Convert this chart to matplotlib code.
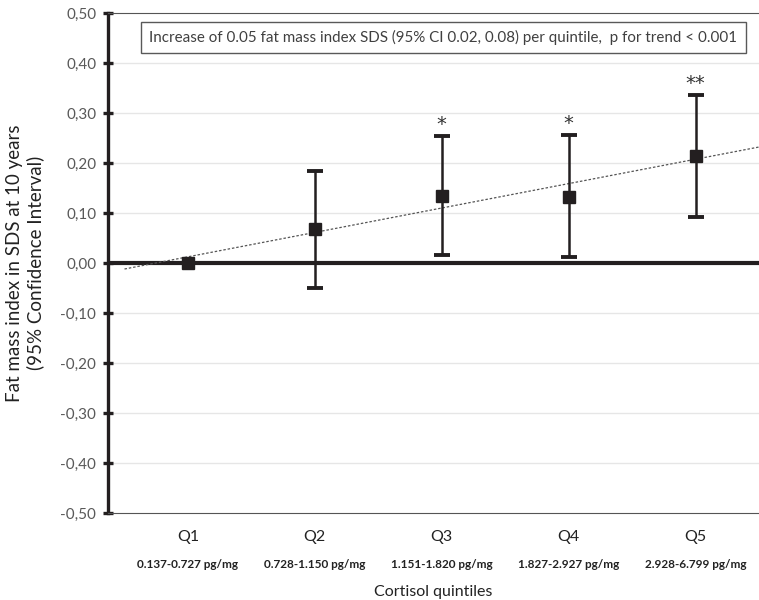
import matplotlib.pyplot as plt
from matplotlib.ticker import FuncFormatter

plt.rcParams['font.family'] = ['Lato', 'DejaVu Sans']

quintiles = ['Q1', 'Q2', 'Q3', 'Q4', 'Q5']
ranges = ['0.137-0.727 pg/mg', '0.728-1.150 pg/mg', '1.151-1.820 pg/mg',
          '1.827-2.927 pg/mg', '2.928-6.799 pg/mg']
estimate = [0.000, 0.068, 0.134, 0.132, 0.214]
ci_low = [0.000, -0.050, 0.016, 0.012, 0.092]
ci_high = [0.000, 0.184, 0.254, 0.256, 0.336]
stars = ['', '', '*', '*', '**']
trend_x = [0.5, 5.5]
trend_y = [-0.012, 0.232]

x = list(range(1, len(quintiles) + 1))
err_lo = [e - l for e, l in zip(estimate, ci_low)]
err_hi = [h - e for e, h in zip(estimate, ci_high)]

fig = plt.figure(figsize=(7.59, 6.0), dpi=100)
ax = fig.add_axes([0.1423, 0.145, 0.8577, 0.8333])

dark = '#231f20'
ax.set_ylim(-0.5, 0.5)
ax.set_xlim(0.37, 5.5)

# gridlines
for g in [-0.4, -0.3, -0.2, -0.1, 0.1, 0.2, 0.3, 0.4]:
    ax.axhline(g, color='#e6e6e6', lw=1.0, zorder=0)

ax.axhline(0, color=dark, lw=3.0, zorder=2)
ax.plot(trend_x, trend_y, ls=(0, (2, 1.5)), color='#555555', lw=0.9, zorder=3)

ax.errorbar(x, estimate, yerr=[err_lo, err_hi], fmt='s', color=dark,
            ms=9, elinewidth=1.8, capsize=5.5, capthick=2.8, zorder=4)

for xi, hi, s in zip(x, ci_high, stars):
    if s:
        ax.text(xi, hi + 0.004, s, ha='center', va='bottom', fontsize=14,
                color='#333333', family='DejaVu Sans')

ax.text(0.515, 0.951, 'Increase of 0.05 fat mass index SDS (95% CI 0.02, 0.08) per quintile,  p for trend < 0.001',
        transform=ax.transAxes, ha='center', va='center', fontsize=10.9, color='#404040',
        bbox=dict(boxstyle='square,pad=0.55', fc='white', ec='#595959', lw=1.0))

for side in ['top', 'bottom']:
    ax.spines[side].set_linestyle((0, (1, 1)))
    ax.spines[side].set_linewidth(0.8)
    ax.spines[side].set_color('#555555')
ax.spines['right'].set_visible(False)
ax.spines['left'].set_linewidth(2.4)
ax.spines['left'].set_color(dark)

ax.set_yticks([i / 10 for i in range(-5, 6)])
ax.yaxis.set_major_formatter(FuncFormatter(lambda v, p: f'{v:.2f}'.replace('.', ',')))
ax.tick_params(axis='y', direction='inout', length=7, width=2.4, color=dark,
               labelsize=11, labelcolor='#595959', pad=5)

ax.set_xticks(x)
ax.set_xticklabels(quintiles)
ax.tick_params(axis='x', length=0, labelsize=11.5, labelcolor='#222222', pad=12)

for xi, r in zip(x, ranges):
    ax.text(xi, -0.104, r, transform=ax.get_xaxis_transform(), ha='center', va='center',
            fontsize=8.5, fontweight='bold', color='#222222')

ax.set_xlabel('Cortisol quintiles', fontsize=11.5, color='#222222', labelpad=30)
ax.set_ylabel('Fat mass index in SDS at 10 years\n(95% Confidence Interval)', fontsize=13.5,
              color='#222222', labelpad=12)

fig.savefig('out.png', dpi=100)
